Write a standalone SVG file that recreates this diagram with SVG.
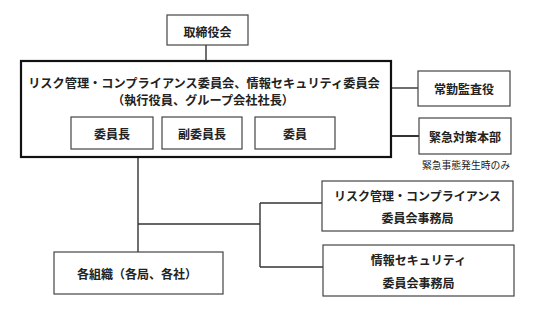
<svg xmlns="http://www.w3.org/2000/svg" width="558" height="314" viewBox="0 0 558 314">
<style>
text{font-family:"Noto Sans CJK JP","Noto Sans",sans-serif;font-size:12px;font-weight:bold;fill:#222;text-anchor:middle;dominant-baseline:central}
.box{fill:#fff;stroke:#444;stroke-width:1.2}
.big{fill:#fff;stroke:#111;stroke-width:2.2}
.ln{stroke:#333;stroke-width:1.4;fill:none}
.small{font-size:9.8px;font-weight:normal}
</style>
<rect width="558" height="314" fill="#fff"/>
<g id="connectors">
<line class="ln" x1="206" y1="45" x2="206" y2="61"/>
<line class="ln" x1="391" y1="88" x2="418" y2="88"/>
<line class="ln" x1="391" y1="136" x2="419" y2="136" style="stroke-width:2"/>
<line class="ln" x1="138" y1="157" x2="138" y2="252"/>
<line class="ln" x1="138" y1="224" x2="260" y2="224"/>
<line class="ln" x1="260" y1="203" x2="260" y2="267"/>
<line class="ln" x1="260" y1="203" x2="322" y2="203"/>
<line class="ln" x1="260" y1="267" x2="323" y2="267"/>
</g>
<g id="board">
<rect class="box" x="167" y="15" width="81" height="30"/>
<text x="207.5" y="31">取締役会</text>
</g>
<g id="committee">
<rect class="big" x="21" y="61" width="370" height="96"/>
<text x="204" y="83" style="font-size:12.2px">リスク管理・コンプライアンス委員会、情報セキュリティ委員会</text>
<text x="203" y="100" style="font-size:12.2px">（執行役員、グループ会社社長）</text>
</g>
<g id="chair">
<rect class="box" x="71" y="117" width="82" height="32"/>
<text x="112" y="133">委員長</text>
</g>
<g id="vicechair">
<rect class="box" x="162" y="117" width="80" height="32"/>
<text x="202" y="133">副委員長</text>
</g>
<g id="member">
<rect class="box" x="255" y="117" width="80" height="32"/>
<text x="295" y="133">委員</text>
</g>
<g id="auditor">
<rect class="box" x="418" y="71" width="92" height="35"/>
<text x="464" y="88.5">常勤監査役</text>
</g>
<g id="emergency">
<rect class="box" x="419" y="118" width="92" height="36"/>
<text x="465" y="136">緊急対策本部</text>
<text class="small" x="466" y="165">緊急事態発生時のみ</text>
</g>
<g id="rc-office">
<rect class="box" x="322" y="181" width="191" height="50"/>
<text x="417.5" y="195">リスク管理・コンプライアンス</text>
<text x="417.5" y="217">委員会事務局</text>
</g>
<g id="is-office">
<rect class="box" x="323" y="245" width="191" height="51"/>
<text x="418.5" y="259">情報セキュリティ</text>
<text x="418.5" y="282">委員会事務局</text>
</g>
<g id="orgs">
<rect class="box" x="54" y="252" width="169" height="42"/>
<text x="137" y="273">各組織（各局、各社）</text>
</g>
</svg>
